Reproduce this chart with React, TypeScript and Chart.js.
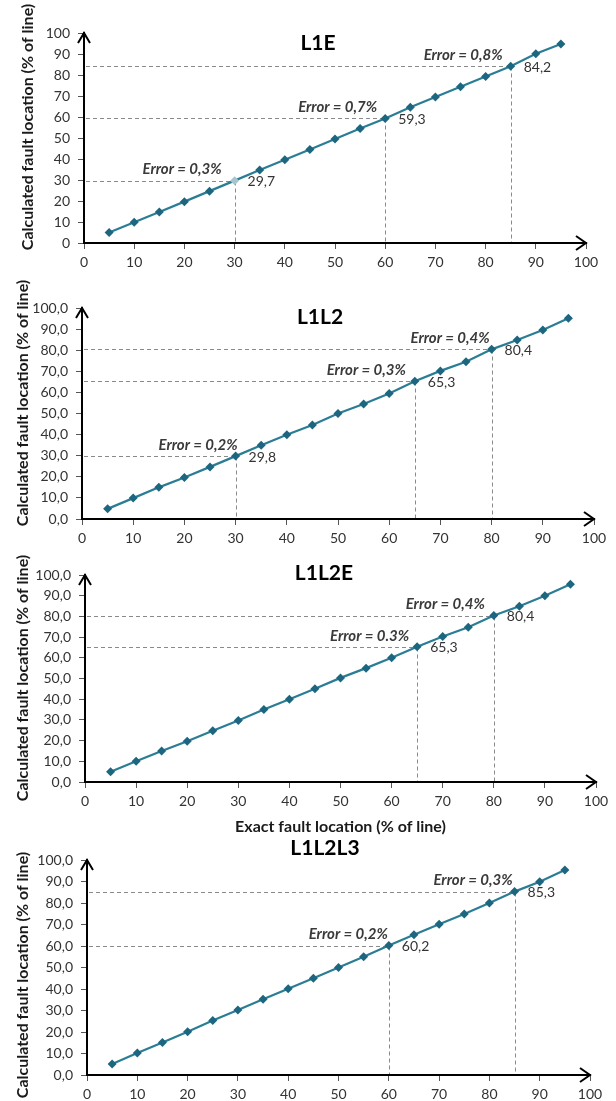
import React, { useEffect, useRef } from 'react';
import { Chart, registerables } from 'chart.js';

Chart.register(...registerables);
Chart.defaults.font.family = 'Lato';

// ---------- data ----------
const exactLocation = [5, 10, 15, 20, 25, 30, 35, 40, 45, 50, 55, 60, 65, 70, 75, 80, 85, 90, 95];

const l1eCalculated = [5.0, 9.9, 14.8, 19.7, 24.7, 29.7, 34.8, 39.6, 44.5, 49.5, 54.5, 59.3, 64.6, 69.5, 74.4, 79.3, 84.2, 90.1, 94.8];
const l1l2Calculated = [4.8, 9.9, 15.0, 19.7, 24.7, 29.8, 35.0, 39.9, 44.5, 50.0, 54.5, 59.5, 65.3, 70.2, 74.5, 80.4, 84.8, 89.6, 95.1];
const l1l2eCalculated = [4.9, 10.0, 15.0, 19.7, 24.8, 29.7, 35.0, 40.0, 45.0, 50.3, 55.0, 60.0, 65.3, 70.3, 74.8, 80.4, 84.9, 90.0, 95.5];
const l1l2l3Calculated = [5.1, 10.2, 15.1, 20.1, 25.3, 30.2, 35.2, 40.1, 45.0, 50.0, 55.0, 60.2, 65.2, 70.1, 74.9, 80.0, 85.3, 89.9, 95.3];

const l1eMarked = [30, 60, 85];
const l1eErrorLabels = ['Error = 0,3%', 'Error = 0,7%', 'Error = 0,8%'];
const l1l2Marked = [30, 65, 80];
const l1l2ErrorLabels = ['Error = 0,2%', 'Error = 0,3%', 'Error = 0,4%'];
const l1l2eMarked = [65, 80];
const l1l2eErrorLabels = ['Error = 0.3%', 'Error = 0,4%'];
const l1l2l3Marked = [60, 85];
const l1l2l3ErrorLabels = ['Error = 0,2%', 'Error = 0,3%'];

const xTickValues = [0, 10, 20, 30, 40, 50, 60, 70, 80, 90, 100];
const yTickValues = [0, 10, 20, 30, 40, 50, 60, 70, 80, 90, 100];
const xTickLabels = ['0', '10', '20', '30', '40', '50', '60', '70', '80', '90', '100'];
const yIntTickLabels = ['0', '10', '20', '30', '40', '50', '60', '70', '80', '90', '100'];
const yDecTickLabels = ['0,0', '10,0', '20,0', '30,0', '40,0', '50,0', '60,0', '70,0', '80,0', '90,0', '100,0'];

const yAxisTitle = 'Calculated fault location (% of line)';
const xAxisTitle = 'Exact fault location (% of line)';

// ---------- layout (page coordinates) ----------
const X_SCALE_H = 24;
const PANELS = [
  {
    title: 'L1E', values: l1eCalculated, marked: l1eMarked, errors: l1eErrorLabels, yLabels: yIntTickLabels,
    top: 0, height: 275, area: { l: 84, r: 586, t: 33, b: 243 },
    titleX: 318, titleY: 43, yTitleX: 28, yTitleY: 127, errDx: [-13, -8, -8], dimmed: 30, showXTitle: false,
  },
  {
    title: 'L1L2', values: l1l2Calculated, marked: l1l2Marked, errors: l1l2ErrorLabels, yLabels: yDecTickLabels,
    top: 275, height: 275, area: { l: 82, r: 594, t: 308, b: 519 },
    titleX: 320, titleY: 317, yTitleX: 23, yTitleY: 403, errDx: [2, -9, -2], dimmed: -1, showXTitle: false,
  },
  {
    title: 'L1L2E', values: l1l2eCalculated, marked: l1l2eMarked, errors: l1l2eErrorLabels, yLabels: yDecTickLabels,
    top: 550, height: 285, area: { l: 85, r: 596, t: 575, b: 782 },
    titleX: 324, titleY: 573, yTitleX: 23, yTitleY: 678, errDx: [-8, -9], dimmed: -1, showXTitle: true,
  },
  {
    title: 'L1L2L3', values: l1l2l3Calculated, marked: l1l2l3Marked, errors: l1l2l3ErrorLabels, yLabels: yDecTickLabels,
    top: 835, height: 266, area: { l: 87, r: 590, t: 860, b: 1075 },
    titleX: 325, titleY: 848, yTitleX: 23, yTitleY: 975, errDx: [-1, -2], dimmed: -1, showXTitle: false,
  },
];

const LINE_COLOR = '#2a7d94';
const MARKER_COLOR = '#1d6680';
const TEXT_COLOR = '#333333';

function fmt(v: number) {
  return v.toFixed(1).replace('.', ',');
}

function makeConfig(p: any): any {
  const overlay = {
    id: 'overlay',
    beforeDatasetsDraw(chart: any) {
      const { ctx, chartArea } = chart;
      const xs = chart.scales.x;
      const ys = chart.scales.y;
      ctx.save();
      ctx.setLineDash([4, 3]);
      ctx.strokeStyle = '#8a8a8a';
      ctx.lineWidth = 1;
      p.marked.forEach((mx: number) => {
        const i = exactLocation.indexOf(mx);
        const v = p.values[i];
        const px = Math.round(xs.getPixelForValue(mx)) + 0.5;
        const py = Math.round(ys.getPixelForValue(v)) + 0.5;
        ctx.beginPath();
        ctx.moveTo(chartArea.left + 2, py);
        ctx.lineTo(px, py);
        ctx.moveTo(px, py);
        ctx.lineTo(px, chartArea.bottom - 1);
        ctx.stroke();
      });
      ctx.restore();
    },
    afterDraw(chart: any) {
      const { ctx, chartArea } = chart;
      const xs = chart.scales.x;
      const ys = chart.scales.y;
      const L = chartArea.left;
      const R = chartArea.right;
      const T = chartArea.top;
      const B = chartArea.bottom;
      ctx.save();
      // arrows
      ctx.strokeStyle = '#000';
      ctx.lineWidth = 2;
      ctx.lineJoin = 'miter';
      ctx.beginPath();
      ctx.moveTo(L - 6, T + 10);
      ctx.lineTo(L, T);
      ctx.lineTo(L + 6, T + 10);
      ctx.moveTo(R - 10, B - 7);
      ctx.lineTo(R, B);
      ctx.lineTo(R - 10, B + 7);
      ctx.stroke();

      // annotations
      p.marked.forEach((mx: number, k: number) => {
        const i = exactLocation.indexOf(mx);
        const v = p.values[i];
        const px = xs.getPixelForValue(mx);
        const py = ys.getPixelForValue(v);
        ctx.font = 'italic bold 15px Lato';
        ctx.fillStyle = '#3a3a3a';
        ctx.textAlign = 'right';
        ctx.textBaseline = 'middle';
        ctx.fillText(p.errors[k], px + p.errDx[k], py - 11);
        ctx.font = '14px Lato';
        ctx.fillStyle = TEXT_COLOR;
        ctx.textAlign = 'left';
        ctx.fillText(fmt(v), px + 13, py + 1);
      });

      // chart title
      ctx.font = 'bold 21px Lato';
      ctx.fillStyle = '#000';
      ctx.textAlign = 'center';
      ctx.textBaseline = 'middle';
      ctx.fillText(p.title, p.titleX, p.titleY - p.top);

      // y axis title
      ctx.save();
      ctx.translate(p.yTitleX, p.yTitleY - p.top);
      ctx.rotate(-Math.PI / 2);
      ctx.font = 'bold 16px Lato';
      ctx.fillStyle = '#1a1a1a';
      ctx.fillText(yAxisTitle, 0, 0);
      ctx.restore();

      // x axis title
      if (p.showXTitle) {
        ctx.font = 'bold 16px Lato';
        ctx.fillStyle = '#1a1a1a';
        ctx.fillText(xAxisTitle, (L + R) / 2, 827 - p.top);
      }
      ctx.restore();
    },
  };

  return {
    type: 'scatter',
    data: {
      datasets: [
        {
          data: exactLocation.map((x, i) => ({ x, y: p.values[i] })),
          showLine: true,
          borderColor: LINE_COLOR,
          borderWidth: 2.2,
          tension: 0,
          pointStyle: 'rectRot',
          pointRadius: 4.5,
          pointBorderWidth: 0,
          pointBackgroundColor: (c: any) =>
            exactLocation[c.dataIndex] === p.dimmed ? '#a9c4cf' : MARKER_COLOR,
        },
      ],
    },
    options: {
      responsive: false,
      animation: false,
      events: [],
      layout: {
        padding: {
          left: 0,
          right: 616 - p.area.r,
          top: p.area.t - p.top,
          bottom: p.top + p.height - p.area.b - X_SCALE_H,
        },
      },
      plugins: {
        legend: { display: false },
        tooltip: { enabled: false },
        title: { display: false },
      },
      scales: {
        x: {
          type: 'linear',
          min: 0,
          max: 100,
          afterBuildTicks: (s: any) => {
            s.ticks = xTickValues.map((v) => ({ value: v }));
          },
          afterFit: (s: any) => {
            s.height = X_SCALE_H;
          },
          ticks: {
            autoSkip: false,
            maxRotation: 0,
            padding: 5,
            color: TEXT_COLOR,
            font: { size: 14 },
            callback: (_v: any, idx: number) => xTickLabels[idx],
          },
          grid: { drawOnChartArea: false, drawTicks: true, tickLength: 6, color: '#555', lineWidth: 1 },
          border: { display: true, color: '#000', width: 2 },
        },
        y: {
          type: 'linear',
          min: 0,
          max: 100,
          afterBuildTicks: (s: any) => {
            s.ticks = yTickValues.map((v) => ({ value: v }));
          },
          afterFit: (s: any) => {
            s.width = p.area.l;
          },
          ticks: {
            autoSkip: false,
            padding: 8,
            color: TEXT_COLOR,
            font: { size: 14 },
            callback: (_v: any, idx: number) => p.yLabels[idx],
          },
          grid: { drawOnChartArea: false, drawTicks: true, tickLength: 6, color: '#555', lineWidth: 1 },
          border: { display: true, color: '#000', width: 2 },
        },
      },
    },
    plugins: [overlay],
  };
}

function Panel({ panel }: { panel: any }) {
  const ref = useRef<HTMLCanvasElement>(null);
  useEffect(() => {
    if (!ref.current) return;
    const chart = new Chart(ref.current, makeConfig(panel));
    return () => chart.destroy();
  }, [panel]);
  return (
    <canvas
      ref={ref}
      width={616}
      height={panel.height}
      style={{ position: 'absolute', left: 0, top: panel.top, width: 616, height: panel.height }}
    />
  );
}

export default function App() {
  return (
    <div style={{ position: 'absolute', left: 0, top: 0, width: 616, height: 1101, background: '#fff', overflow: 'hidden' }}>
      {PANELS.map((p) => (
        <Panel key={p.title} panel={p} />
      ))}
    </div>
  );
}
